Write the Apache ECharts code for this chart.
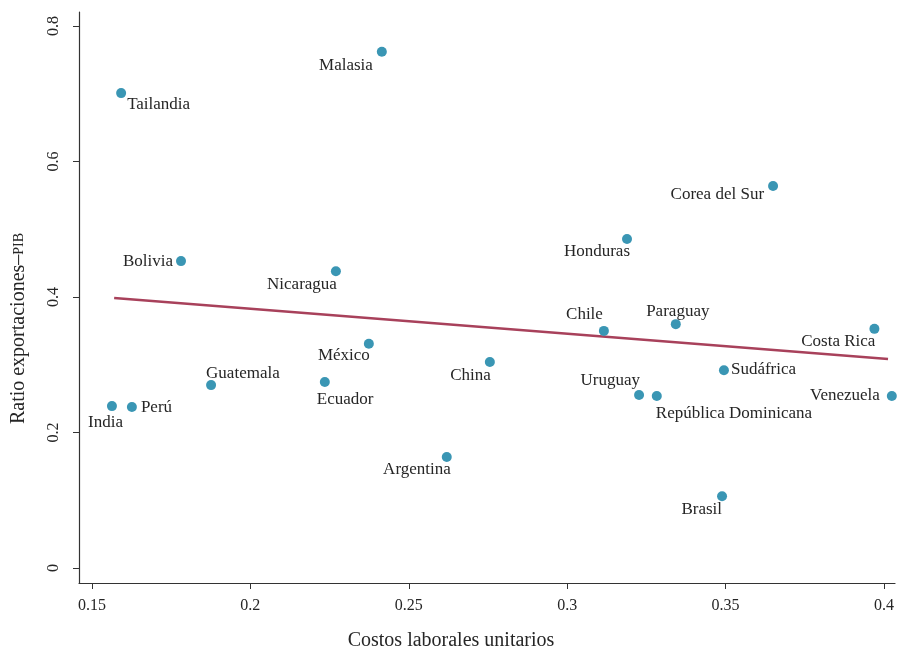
<!DOCTYPE html>
<html><head><meta charset="utf-8">
<script src="https://cdn.jsdelivr.net/npm/echarts@6/dist/echarts.min.js"></script>
<style>html,body{margin:0;padding:0;background:#fff}#c{width:902px;height:649px}</style>
</head><body><div id="c"></div>
<script>
// Data
const countries = ["Malasia","Tailandia","Corea del Sur","Honduras","Bolivia","Nicaragua","Chile","Paraguay","Costa Rica","México","China","Sudáfrica","Guatemala","Ecuador","Uruguay","República Dominicana","Venezuela","India","Perú","Argentina","Brasil"];
const laborCosts = [0.2415,0.1592,0.365,0.3189,0.1781,0.227,0.3116,0.3343,0.397,0.2374,0.2756,0.3495,0.1876,0.2235,0.3227,0.3283,0.4025,0.1563,0.1626,0.262,0.3489];
const exportRatio = [0.762,0.701,0.564,0.4856,0.453,0.438,0.350,0.360,0.353,0.331,0.304,0.292,0.270,0.2745,0.2554,0.254,0.254,0.239,0.2376,0.164,0.106];
const fitX = [0.157,0.4013];
const fitY = [0.3985,0.3085];
const xTicks = [0.15,0.2,0.25,0.3,0.35,0.4];
const yTicks = [0,0.2,0.4,0.6,0.8];

// Label placement (style): [align, dx, dy]
const labelPlace = {
 "Malasia":["right",-9,14],"Tailandia":["left",6,11],"Corea del Sur":["right",-9,9],
 "Honduras":["right",3,12],"Bolivia":["right",-8,0],"Nicaragua":["right",1,13],
 "Chile":["right",-1,-16],"Paraguay":["center",2,-13],"Costa Rica":["right",1,13],
 "México":["right",1,12],"China":["right",1,13],"Sudáfrica":["left",7,-1],
 "Guatemala":["left",-5,-12],"Ecuador":["left",-8,17],"Uruguay":["right",1,-14],
 "República Dominicana":["left",-1,18],"Venezuela":["right",-12,0],"India":["right",11,16],
 "Perú":["left",9,0],"Argentina":["right",4,13],"Brasil":["right",0,13]
};

const FONT = "Liberation Serif";
const TXT = '#262626';
const pts = countries.map((n,i)=>{
  const p = labelPlace[n];
  return {name:n, value:[laborCosts[i], exportRatio[i]],
    label:{show:true, position:'inside', align:p[0], verticalAlign:'middle', offset:[p[1],p[2]], formatter:n}};
});

const chart = echarts.init(document.getElementById('c'), null, {renderer:'canvas'});
chart.setOption({
  animation:false,
  backgroundColor:'#fff',
  grid:{left:79, right:7, top:12, bottom:66, containLabel:false, outerBoundsMode:'none'},
  xAxis:{type:'value', min:0.1459, max:0.4035,
    name:'Costos laborales unitarios', nameLocation:'middle', nameGap:48,
    nameTextStyle:{fontFamily:FONT, fontSize:20, color:TXT, padding:[0,72,0,0]},
    axisLine:{show:true, onZero:false, lineStyle:{color:'#333', width:1.2}},
    axisTick:{show:true, length:6, customValues:xTicks, lineStyle:{color:'#333'}},
    axisLabel:{customValues:xTicks, fontFamily:FONT, fontSize:16, color:TXT, margin:15,
      formatter:v=>String(+v.toFixed(2))},
    splitLine:{show:false}},
  yAxis:{type:'value', min:-0.0221, max:0.8207,
    name:'{a|Ratio exportaciones–}{b|PIB}', nameLocation:'middle', nameGap:50,
    nameTextStyle:{fontFamily:FONT, fontSize:20, color:TXT, padding:[0,62,0,0],
      rich:{a:{fontFamily:FONT,fontSize:20,color:TXT}, b:{fontFamily:FONT,fontSize:14,color:TXT}}},
    axisLine:{show:true, onZero:false, lineStyle:{color:'#333', width:1.2}},
    axisTick:{show:true, length:6, customValues:yTicks, lineStyle:{color:'#333'}},
    axisLabel:{customValues:yTicks, rotate:90, fontFamily:FONT, fontSize:16, color:TXT, margin:17,
      formatter:v=>String(+v.toFixed(1))},
    splitLine:{show:false}},
  series:[
    {type:'line', data:fitX.map((x,i)=>[x,fitY[i]]), symbol:'none',
      lineStyle:{color:'#a8415b', width:2.5}, z:1},
    {type:'scatter', data:pts, symbolSize:10,
      itemStyle:{color:'#3a96b4', opacity:1},
      label:{fontFamily:FONT, fontSize:17, color:TXT}, z:2}
  ]
});
</script></body></html>
